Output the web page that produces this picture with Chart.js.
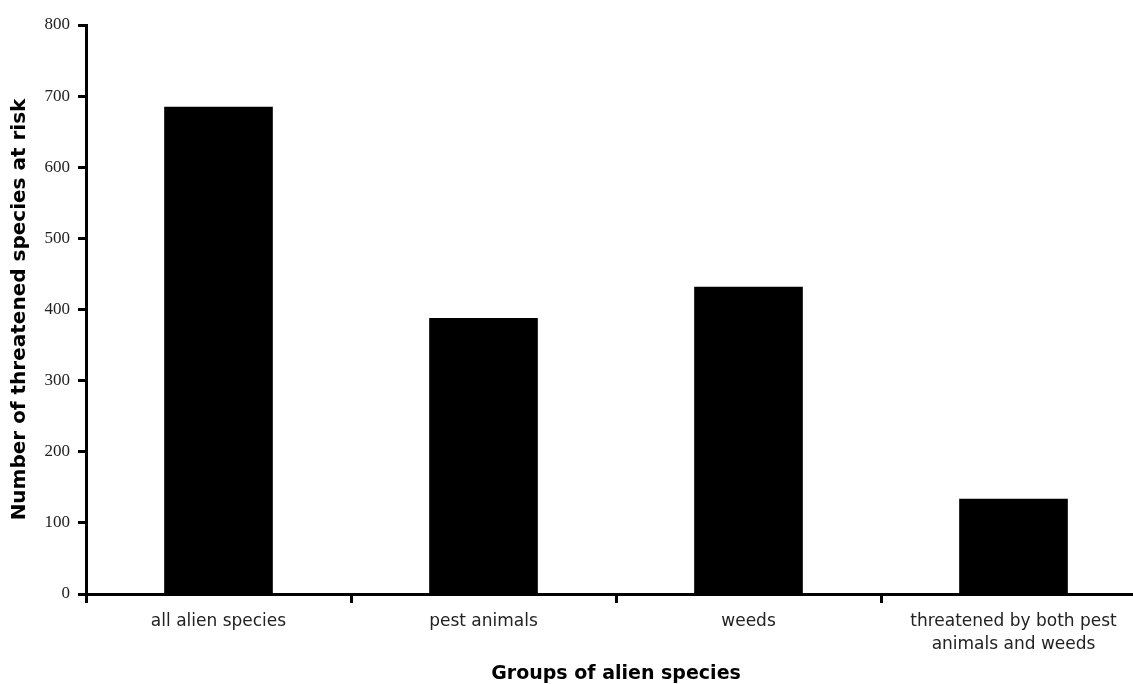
<!DOCTYPE html>
<html>
<head>
<meta charset="utf-8">
<script src="https://cdn.jsdelivr.net/npm/chart.js@4/dist/chart.umd.min.js"></script>
<style>
  html, body { margin: 0; padding: 0; background: #fff; overflow: hidden; }
  #wrap { width: 1150px; height: 684px; }
</style>
</head>
<body>
<div id="wrap"><canvas id="chart" width="1150" height="684"></canvas></div>
<script>
// categories and values
const groups = ['all alien species', 'pest animals', 'weeds', ['threatened by both pest', 'animals and weeds']];
const threatenedCounts = [685, 388, 432, 134];
const yTicks = [0, 100, 200, 300, 400, 500, 600, 700, 800];

const ctx = document.getElementById('chart').getContext('2d');
const chart = new Chart(ctx, {
    type: 'bar',
    data: {
        labels: groups,
        datasets: [{
            data: threatenedCounts,
            backgroundColor: '#000',
            borderWidth: 0,
            categoryPercentage: 1,
            barPercentage: 0.41
        }]
    },
    options: {
        responsive: false,
        animation: false,
        layout: { padding: { top: 25, right: 4, left: 0, bottom: 0 } },
        plugins: { legend: { display: false }, tooltip: { enabled: false } },
        scales: {
            x: {
                grid: { drawOnChartArea: false, drawTicks: true, tickLength: 9, tickWidth: 3, tickColor: '#000', offset: true },
                border: { display: true, width: 3, color: '#000' },
                ticks: { color: '#222', font: { family: 'DejaVu Sans', size: 17, lineHeight: 1.35 }, padding: 7, maxRotation: 0, autoSkip: false },
                title: {
                    display: true,
                    text: 'Groups of alien species',
                    color: '#000',
                    font: { family: 'DejaVu Sans', size: 19, weight: 'bold', lineHeight: 1 },
                    padding: { top: 0, bottom: 0 }
                },
                afterFit: function(scale) { scale.height = 90; }
            },
            y: {
                min: 0,
                max: 800,
                afterBuildTicks: function(scale) { scale.ticks = yTicks.map(v => ({ value: v })); },
                grid: { drawOnChartArea: false, drawTicks: true, tickLength: 8, tickWidth: 3, tickColor: '#000' },
                border: { display: true, width: 3, color: '#000' },
                ticks: { color: '#222', font: { family: 'Liberation Serif', size: 17 }, padding: 8 },
                title: {
                    display: true,
                    text: 'Number of threatened species at risk',
                    color: '#000',
                    font: { family: 'DejaVu Sans', size: 20, weight: 'bold', lineHeight: 1.2 },
                    padding: { top: 8, bottom: 0 }
                },
                afterFit: function(scale) { scale.width = 86; }
            }
        }
    }
});
</script>
</body>
</html>
